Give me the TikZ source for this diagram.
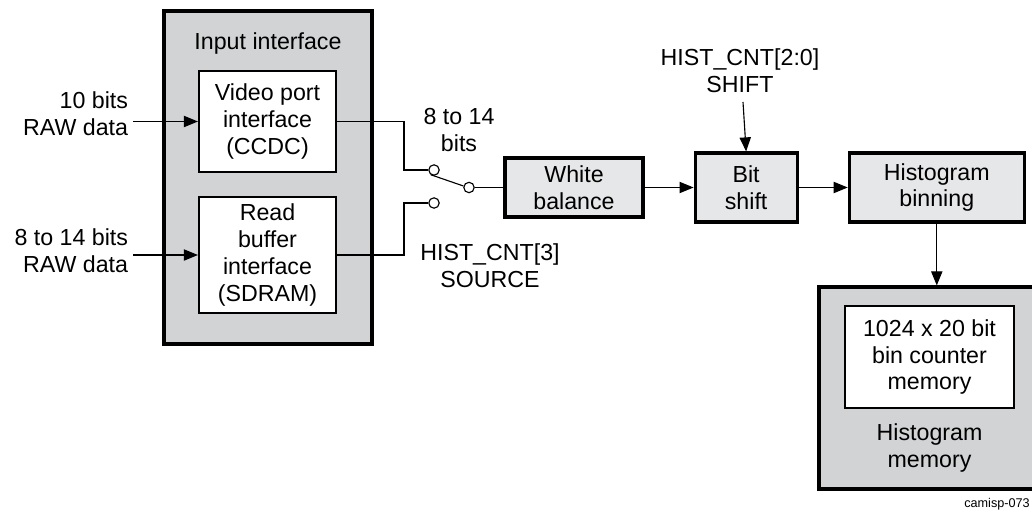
\documentclass[tikz,border=0pt]{standalone}
\usepackage{fontspec}
\setmainfont{Liberation Sans}
\usetikzlibrary{arrows.meta, positioning}
\definecolor{panelgray}{HTML}{D1D3D4}
\definecolor{blockgray}{HTML}{E6E7E8}
\newcommand{\dfont}{\fontsize{16.5pt}{19pt}\selectfont}

\begin{document}
\begin{tikzpicture}[x=0.025cm, y=-0.025cm,
        node distance = 1.225cm,
        txt/.style = {align=center, font=\dfont},
        panel/.style = {draw, rectangle, line width=2.2pt, fill=panelgray},
        inbox/.style = {draw, rectangle, line width=1.5pt, fill=white, txt},
        block/.style = {draw, rectangle, line width=2.2pt, fill=blockgray, txt, minimum height=1.725cm},
        contact/.style = {draw, circle, fill=white, line width=0.8pt, inner sep=0pt, minimum size=0.26cm},
        arrow/.style = {line width=0.8pt, -{Triangle[length=10pt, width=8pt]}},
        wire/.style = {line width=0.8pt}
    ]
        \useasboundingbox (0,0) rectangle (1032,512);

        % input interface
        \node (inpanel) [panel, minimum width=5.2cm, minimum height=8.325cm] at (268,177.5) {};
        \node (inlbl) [txt] at (268,44) {Input interface};
        \node (video) [inbox, minimum width=3.425cm, minimum height=2.525cm] at (267.5,121.5) {Video port\\interface\\(CCDC)};
        \node (readbuf) [inbox, minimum width=3.425cm, minimum height=2.9cm] at (267.5,255) {Read\\buffer\\interface\\(SDRAM)};

        \node (raw1) [txt, align=right, anchor=east] at (133,113.5) {10 bits\\RAW data};
        \node (raw2) [txt, align=right, anchor=east] at (133,251) {8 to 14 bits\\RAW data};
        \draw [arrow] (raw1.east |- video.west) -- (video.west);
        \draw [arrow] (raw2.east |- readbuf.west) -- (readbuf.west);

        % source switch
        \node (swup) [contact] at (434,170) {};
        \node (swlo) [contact] at (434,203) {};
        \node (swout) [contact] at (469,187.5) {};
        \coordinate (bend) at (404,0);
        \draw [wire] (video.east) -| (bend |- swup) -- (swup);
        \draw [wire] (readbuf.east) -| (bend |- swlo) -- (swlo);
        \draw [wire] (swup.235) -- (swout.165);
        \node (bitslbl) [txt] at (459,130) {8 to 14\\bits};
        \node (srclbl) [txt] at (490,266) {HIST\_CNT[3]\\SOURCE};

        % processing chain
        \node (wb) [block, minimum width=3.45cm, minimum height=1.475cm] at (574,187.5) {White\\balance};
        \node (bitshift) [block, right=of wb, minimum width=2.55cm] {Bit\\shift};
        \node (histbin) [block, right=of bitshift, minimum width=4.375cm] {Histogram\\binning};

        \draw [wire] (swout) -- (wb.west);
        \draw [arrow] (wb) -- (bitshift);
        \draw [arrow] (bitshift) -- (histbin);

        \coordinate (shiftin) at (743,102);
        \node (shiftlbl) [txt] at (740,71) {HIST\_CNT[2:0]\\SHIFT};
        \draw [arrow] (shiftin) -- (bitshift.north);

        % histogram memory
        \node (histmem) [panel, minimum width=5.65cm, minimum height=5.05cm] at (932,388) {};
        \node (bincnt) [inbox, minimum width=4.225cm, minimum height=2.55cm] at (929.5,357) {1024 x 20 bit\\bin counter\\memory};
        \node (memlbl) [txt] at (929.5,448) {Histogram\\memory};
        \draw [arrow] (histbin.south) -- (histbin.south |- histmem.north);

        \node (figid) [font=\fontsize{9pt}{11pt}\selectfont, anchor=base east, inner sep=0pt] at (1030,507) {camisp-073};

    \end{tikzpicture}
\end{document}
